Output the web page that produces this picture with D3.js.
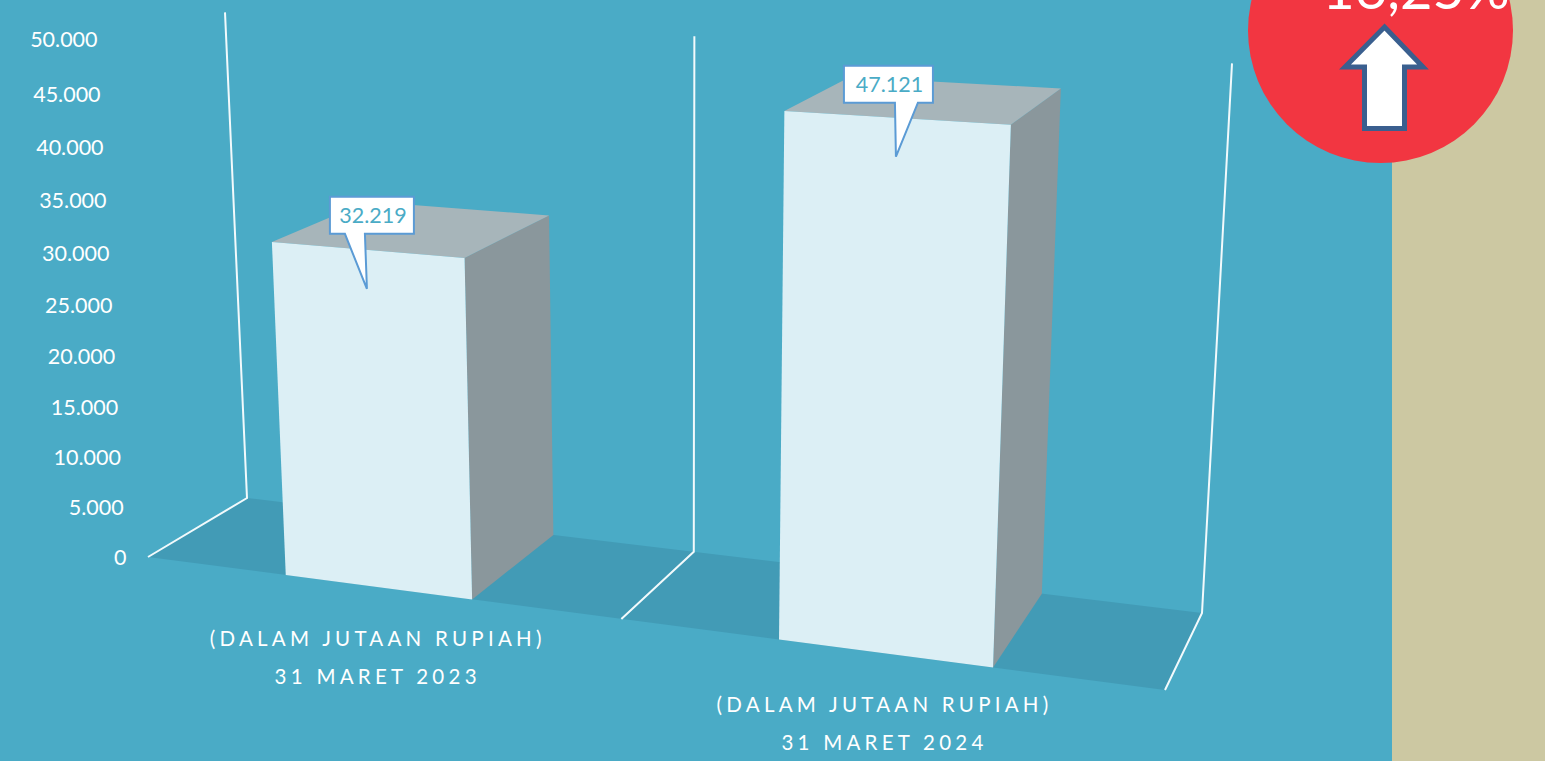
<!DOCTYPE html>
<html><head><meta charset="utf-8">
<script src="https://cdn.jsdelivr.net/npm/d3@7/dist/d3.min.js"></script>
<style>html,body{margin:0;padding:0;background:#4AABC6;overflow:hidden}svg{display:block}text{font-family:Lato,"Open Sans",sans-serif}</style>
</head><body><svg id="c" width="1545" height="761"></svg>
<script>
const categories = ["31 MARET 2023", "31 MARET 2024"];
const values = [32219, 47121];
const valueLabels = ["32.219", "47.121"];
const unitLabel = "(DALAM JUTAAN RUPIAH)";
const tickValues = [0, 5000, 10000, 15000, 20000, 25000, 30000, 35000, 40000, 45000, 50000];
const growthLabel = "16,25%";

const W = 1545, H = 761;
const colors = {bg:"#4AABC6", beige:"#CCC8A2", floor:"#429BB6", front:"#DCEFF5", top:"#A7B5BA", side:"#8A979C",
  red:"#F23641", arrow:"#3A5F8F", callout:"#5B9BD5", white:"#FFFFFF"};

// Scales in model space
const uScale = d3.scaleBand().domain(categories).range([0.001,1.001]).paddingInner(0.606).paddingOuter(0.303);
const wScale = d3.scaleLinear().domain([0,50000]).range([0,1]);

// Camera: floor homography from its four projected corners + vertical vanishing point
const floorCorners = {p00:[148,557], p10:[1165,690], p01:[247,498], p11:[1202,613]};
const vanish = [683,10120], heightGain = 0.0513;
const camera = (() => {
  const {p00,p10,p01,p11} = floorCorners;
  const dx1=p10[0]-p11[0], dx2=p01[0]-p11[0], sx=p00[0]-p10[0]+p11[0]-p01[0];
  const dy1=p10[1]-p11[1], dy2=p01[1]-p11[1], sy=p00[1]-p10[1]+p11[1]-p01[1];
  const det=dx1*dy2-dx2*dy1;
  const g=(sx*dy2-dx2*sy)/det, h=(dx1*sy-sx*dy1)/det;
  return {a:p10[0]-p00[0]+g*p10[0], b:p01[0]-p00[0]+h*p01[0], c:p00[0],
          d:p10[1]-p00[1]+g*p10[1], e:p01[1]-p00[1]+h*p01[1], f:p00[1], g, h};
})();
function project(u,v,value){
  const w = wScale(value)*heightGain, c = camera;
  const T = c.g*u+c.h*v+1-w;
  return [(c.a*u+c.b*v+c.c-w*vanish[0])/T, (c.d*u+c.e*v+c.f-w*vanish[1])/T];
}

const svg = d3.select("#c");
const line = d3.line();
const poly = pts => line(pts)+"Z";

svg.append("rect").attr("width",W).attr("height",H).attr("fill",colors.bg);
svg.append("rect").attr("x",1392).attr("width",W-1392).attr("height",H).attr("fill",colors.beige);

// Floor
svg.append("path").attr("d",poly([project(0,0,0),project(1,0,0),project(1,1,0),project(0,1,0)])).attr("fill",colors.floor);

// Walls
const wallTop = 50100;
[0,0.5,1].forEach(u=>{
  svg.append("path").attr("d",line([project(u,0,0),project(u,1,0),project(u,1,wallTop)]))
    .attr("fill","none").attr("stroke","#F2FAFC").attr("stroke-width",2);
});

// Tick labels
const fmt = d3.formatLocale({decimal:",",thousands:".",grouping:[3],currency:["",""]}).format(",");
svg.append("g").selectAll("text").data(tickValues).join("text")
  .attr("x",d=>project(0,0,d)[0]-21.5).attr("y",d=>project(0,0,d)[1]+7.5)
  .attr("text-anchor","end").attr("font-size",21.5).attr("fill",colors.white).text(d=>fmt(d));

// Bars
const bars = svg.append("g").selectAll("g").data(categories).join("g");
const u0 = c=>uScale(c), u1 = c=>uScale(c)+uScale.bandwidth();
const val = (c)=>values[categories.indexOf(c)];
bars.append("path").attr("fill",colors.side).attr("d",c=>poly([project(u1(c),0,0),project(u1(c),1,0),project(u1(c),1,val(c)),project(u1(c),0,val(c))]));
bars.append("path").attr("fill",colors.top).attr("d",c=>poly([project(u0(c),0,val(c)),project(u1(c),0,val(c)),project(u1(c),1,val(c)),project(u0(c),1,val(c))]));
bars.append("path").attr("fill",colors.front).attr("d",c=>poly([project(u0(c),0,0),project(u1(c),0,0),project(u1(c),0,val(c)),project(u0(c),0,val(c))]));

// Category labels
const mid = c=>uScale(c)+uScale.bandwidth()/2;
const labels = svg.append("g").selectAll("g").data(categories).join("g")
  .attr("transform",c=>{const p=project(mid(c),0,0);return `translate(${p[0]},${p[1]})`});
labels.append("text").attr("text-anchor","middle").attr("y",58.5).attr("font-size",20.5).attr("letter-spacing",4.25).attr("fill",colors.white).text(unitLabel);
labels.append("text").attr("text-anchor","middle").attr("y",97).attr("font-size",20.5).attr("letter-spacing",4.25).attr("fill",colors.white).text(c=>c);

// Callouts: box hangs off a tip placed below the top-front edge of each bar
const calloutBox = [{l:-37,r:47,t:-92,b:-55,b0:-22,b1:-2},{l:-52,r:37,t:-91,b:-54,b0:-1,b1:22}];
const tipDrop = 39;
const callouts = svg.append("g").selectAll("g").data(categories).join("g")
  .attr("transform",c=>{const p=project(mid(c),0,val(c));return `translate(${p[0]},${p[1]+tipDrop})`});
callouts.append("path").attr("fill",colors.white).attr("stroke",colors.callout).attr("stroke-width",2).attr("stroke-linejoin","miter")
  .attr("d",(c,i)=>{const b=calloutBox[i];return poly([[b.l,b.t],[b.r,b.t],[b.r,b.b],[b.b1,b.b],[0,0],[b.b0,b.b],[b.l,b.b]]);});
callouts.append("text").attr("text-anchor","middle").attr("font-size",21.5).attr("fill",colors.bg)
  .attr("x",(c,i)=>(calloutBox[i].l+calloutBox[i].r)/2+1).attr("y",(c,i)=>(calloutBox[i].t+calloutBox[i].b)/2+7.5)
  .text((c,i)=>valueLabels[i]);

// Growth badge
svg.append("circle").attr("cx",1380.5).attr("cy",30.5).attr("r",132.5).attr("fill",colors.red);
svg.append("text").attr("x",1416).attr("y",9).attr("text-anchor","middle").attr("font-size",56).attr("fill",colors.white).text(growthLabel);
svg.append("path").attr("fill",colors.white).attr("stroke",colors.arrow).attr("stroke-width",5).attr("stroke-linejoin","miter").attr("stroke-miterlimit",10)
  .attr("d",poly([[1384.5,27],[1423,67],[1404.5,67],[1404.5,128.5],[1364.5,128.5],[1364.5,67],[1345,67]]));
</script></body></html>
